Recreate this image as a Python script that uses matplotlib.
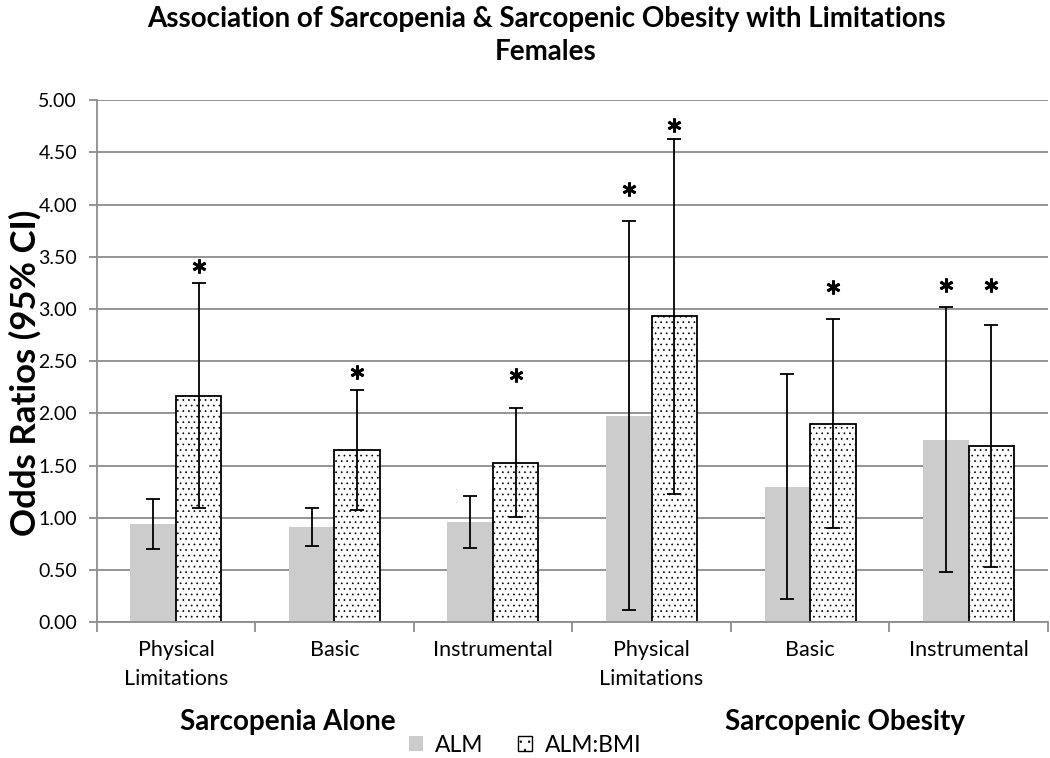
import numpy as np
import matplotlib
matplotlib.use("Agg")
from matplotlib import pyplot as plt
from matplotlib.patches import Patch

plt.rcParams['font.family'] = ['Lato', 'DejaVu Sans']
plt.rcParams['hatch.linewidth'] = 0.5
plt.rcParams['hatch.color'] = '#222222'

# Data
categories = ["Physical\nLimitations", "Basic", "Instrumental",
              "Physical\nLimitations", "Basic", "Instrumental"]
groups = ["Sarcopenia Alone", "Sarcopenic Obesity"]

alm = [0.94, 0.91, 0.96, 1.98, 1.30, 1.75]
alm_lo = [0.70, 0.73, 0.71, 0.12, 0.22, 0.48]
alm_hi = [1.18, 1.09, 1.21, 3.84, 2.38, 3.02]

bmi = [2.17, 1.65, 1.53, 2.93, 1.90, 1.69]
bmi_lo = [1.09, 1.08, 1.01, 1.23, 0.90, 0.53]
bmi_hi = [3.25, 2.22, 2.05, 4.63, 2.90, 2.85]

# significance asterisks (height where they sit; None = not significant)
alm_star = [None, None, None, 4.15, None, 3.23]
bmi_star = [3.41, 2.40, 2.37, 4.76, 3.21, 3.23]

yticks = np.arange(0, 5.01, 0.5)

fig = plt.figure(figsize=(10.5, 7.58), dpi=100)
ax = fig.add_axes([0.092, 0.179, 0.906, 0.689])

x = np.arange(len(categories))
w = 0.287

alm = np.array(alm); bmi = np.array(bmi)
alm_err = [alm - np.array(alm_lo), np.array(alm_hi) - alm]
bmi_err = [bmi - np.array(bmi_lo), np.array(bmi_hi) - bmi]

ax.bar(x - w / 2, alm, w, color='#cccccc', edgecolor='none', zorder=2)
ax.bar(x + w / 2, bmi, w, color='white', edgecolor='black', linewidth=1.3,
       hatch='...', zorder=2)
ax.errorbar(x - w / 2, alm, yerr=alm_err, fmt='none', ecolor='black',
            elinewidth=1.3, capsize=5, capthick=1.3, zorder=3)
ax.errorbar(x + w / 2, bmi, yerr=bmi_err, fmt='none', ecolor='black',
            elinewidth=1.3, capsize=5, capthick=1.3, zorder=3)

# asterisks
for i in range(len(x)):
    if alm_star[i] is not None:
        ax.plot(x[i] - w / 2, alm_star[i], marker=(6, 2, 0), ms=10, mew=2,
                color='black', zorder=4)
    if bmi_star[i] is not None:
        ax.plot(x[i] + w / 2, bmi_star[i], marker=(6, 2, 0), ms=10, mew=2,
                color='black', zorder=4)

ax.set_xlim(-0.5, len(x) - 0.5)
ax.set_ylim(0, 5)
ax.set_yticks(yticks)
ax.set_yticklabels([f"{v:.2f}" for v in yticks], fontsize=14)
ax.yaxis.grid(True, color='#8c8c8c', linewidth=1.3)
ax.set_axisbelow(True)

ax.set_xticks(x)
ax.set_xticklabels(categories, fontsize=15.5, linespacing=1.55)
ax.set_xticks(np.arange(-0.5, len(x), 1), minor=True)
ax.tick_params(axis='x', which='major', length=0, pad=13)
ax.tick_params(axis='x', which='minor', length=7, color='#8c8c8c', width=1.3)
ax.tick_params(axis='y', length=6, color='#8c8c8c', width=1.3, pad=8)

for s in ['top', 'right']:
    ax.spines[s].set_visible(False)
for s in ['left', 'bottom']:
    ax.spines[s].set_color('#8c8c8c')
    ax.spines[s].set_linewidth(1.3)

fig.text(0.024, 0.508, "Odds Ratios (95% CI)", rotation=90, ha='center', va='center',
         fontsize=25, fontweight='bold')

fig.suptitle("Association of Sarcopenia & Sarcopenic Obesity with Limitations\nFemales",
             x=0.52, y=0.992, fontsize=20, fontweight='bold', linespacing=1.35)

fig.text(0.274, 0.048, groups[0], ha='center', va='center', fontsize=20, fontweight='bold')
fig.text(0.805, 0.048, groups[1], ha='center', va='center', fontsize=20, fontweight='bold')

handles = [Patch(facecolor='#cccccc', edgecolor='none', label='ALM'),
           Patch(facecolor='white', edgecolor='black', hatch='..', label='ALM:BMI')]
fig.legend(handles=handles, loc='center', bbox_to_anchor=(0.5, 0.017), ncol=2,
           frameon=False, fontsize=16.5, handlelength=0.6, handleheight=0.6,
           handletextpad=0.55, columnspacing=1.5, borderpad=0)

fig.savefig("out.png", dpi=100)
